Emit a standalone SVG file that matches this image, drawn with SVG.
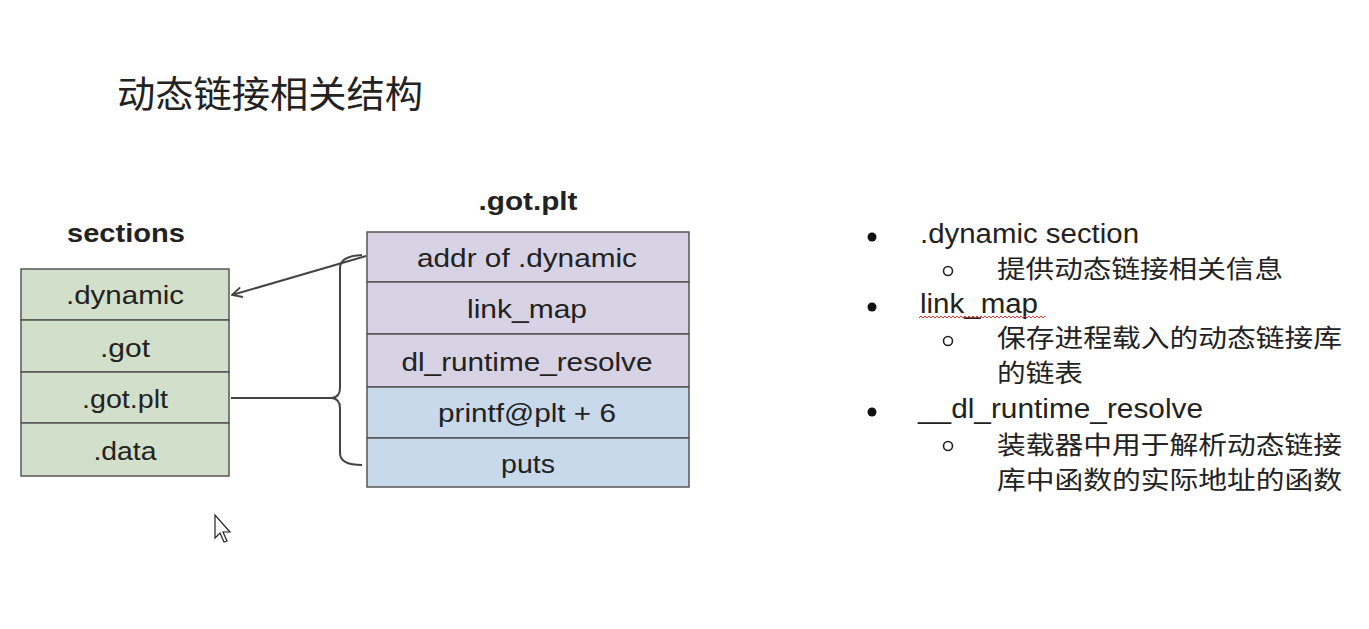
<svg xmlns="http://www.w3.org/2000/svg" width="1369" height="629" viewBox="0 0 1369 629">
<style>
.lat{font-family:"Liberation Sans",Arial,sans-serif;fill:#222;}
.cjk{font-family:"Noto Sans CJK SC","Noto Sans",sans-serif;fill:#222;}
.box{font-size:25px;text-anchor:middle;}
.g{fill:#d2dfca;stroke:#555;stroke-width:1.5;}
.p{fill:#d8d3e4;stroke:#555;stroke-width:1.5;}
.b{fill:#c9d9ec;stroke:#555;stroke-width:1.5;}
.hd{font-size:26px;font-weight:bold;text-anchor:middle;}
.li{font-size:27px;}
.sub{font-size:25px;}
.conn{fill:none;stroke:#444;stroke-width:2;}
</style>
<defs>
<marker id="arr" viewBox="0 0 12 12" refX="11" refY="6" markerWidth="12" markerHeight="12" markerUnits="userSpaceOnUse" orient="auto">
<path d="M1,1 L11,6 L1,11" fill="none" stroke="#444" stroke-width="1.8"/>
</marker>
</defs>
<rect width="1369" height="629" fill="#ffffff"/>
<text class="cjk" x="117" y="108" font-size="37" textLength="306" lengthAdjust="spacingAndGlyphs">动态链接相关结构</text>

<g id="sections">
<text class="lat hd" x="126" y="242" textLength="118" lengthAdjust="spacingAndGlyphs">sections</text>
<g id="sec-dynamic"><rect class="g" x="21" y="269" width="208" height="51"/><text class="lat box" x="125" y="304" textLength="118" lengthAdjust="spacingAndGlyphs">.dynamic</text></g>
<g id="sec-got"><rect class="g" x="21" y="320" width="208" height="52"/><text class="lat box" x="125" y="357" textLength="50" lengthAdjust="spacingAndGlyphs">.got</text></g>
<g id="sec-gotplt"><rect class="g" x="21" y="372" width="208" height="51"/><text class="lat box" x="125" y="408" textLength="86" lengthAdjust="spacingAndGlyphs">.got.plt</text></g>
<g id="sec-data"><rect class="g" x="21" y="423" width="208" height="53"/><text class="lat box" x="125" y="460" textLength="63" lengthAdjust="spacingAndGlyphs">.data</text></g>
</g>

<g id="gotplt">
<text class="lat hd" x="528" y="210" textLength="99" lengthAdjust="spacingAndGlyphs">.got.plt</text>
<g id="g-addr"><rect class="p" x="367" y="232" width="322" height="50"/><text class="lat box" x="527" y="267" textLength="220" lengthAdjust="spacingAndGlyphs">addr of .dynamic</text></g>
<g id="g-linkmap"><rect class="p" x="367" y="282" width="322" height="52"/><text class="lat box" x="527" y="318" textLength="120" lengthAdjust="spacingAndGlyphs">link_map</text></g>
<g id="g-dl"><rect class="p" x="367" y="334" width="322" height="53"/><text class="lat box" x="527" y="371" textLength="251" lengthAdjust="spacingAndGlyphs">dl_runtime_resolve</text></g>
<g id="g-printf"><rect class="b" x="367" y="387" width="322" height="51"/><text class="lat box" x="527" y="422" textLength="178" lengthAdjust="spacingAndGlyphs">printf@plt + 6</text></g>
<g id="g-puts"><rect class="b" x="367" y="438" width="322" height="49"/><text class="lat box" x="528" y="473" textLength="54" lengthAdjust="spacingAndGlyphs">puts</text></g>
</g>

<g id="connectors">
<line class="conn" x1="366" y1="256" x2="232" y2="295" marker-end="url(#arr)"/>
<path class="conn" d="M362,255 Q340,256 340,268 L340,388 Q340,397 332,398 Q340,399 340,408 L340,453 Q340,465 362,465"/>
<line class="conn" x1="231" y1="398" x2="333" y2="398"/>
</g>

<g id="notes">
<circle cx="872" cy="237" r="4.5" fill="#111"/>
<text class="lat li" x="920" y="243" textLength="219" lengthAdjust="spacingAndGlyphs">.dynamic section</text>
<circle cx="948" cy="271" r="4.5" fill="none" stroke="#222" stroke-width="1.6"/>
<text class="cjk sub" x="997" y="278" textLength="286" lengthAdjust="spacingAndGlyphs">提供动态链接相关信息</text>

<circle cx="872" cy="307" r="4.5" fill="#111"/>
<text class="lat li" x="920" y="313" textLength="118" lengthAdjust="spacingAndGlyphs">link_map</text>
<path d="M919,318 l2,-2 l2,2 l2,-2 l2,2 l2,-2 l2,2 l2,-2 l2,2 l2,-2 l2,2 l2,-2 l2,2 l2,-2 l2,2 l2,-2 l2,2 l2,-2 l2,2 l2,-2 l2,2 l2,-2 l2,2 l2,-2 l2,2 l2,-2 l2,2 l2,-2 l2,2 l2,-2 l2,2 l2,-2 l2,2 l2,-2 l2,2 l2,-2 l2,2 l2,-2 l2,2 l2,-2 l2,2 l2,-2 l2,2 l2,-2 l2,2 l2,-2 l2,2 l2,-2 l2,2 l2,-2 l2,2 l2,-2 l2,2 l2,-2 l2,2 l2,-2 l2,2 l2,-2 l2,2 l2,-2 l2,2 l2,-2 l2,2 l2,-2" fill="none" stroke="#e03030" stroke-width="1"/>
<circle cx="948" cy="341" r="4.5" fill="none" stroke="#222" stroke-width="1.6"/>
<text class="cjk sub" x="997" y="347" textLength="345" lengthAdjust="spacingAndGlyphs">保存进程载入的动态链接库</text>
<text class="cjk sub" x="997" y="382" textLength="86" lengthAdjust="spacingAndGlyphs">的链表</text>

<circle cx="872" cy="412" r="4.5" fill="#111"/>
<text class="lat li" x="918" y="418" textLength="285" lengthAdjust="spacingAndGlyphs">__dl_runtime_resolve</text>
<circle cx="948" cy="446" r="4.5" fill="none" stroke="#222" stroke-width="1.6"/>
<text class="cjk sub" x="997" y="454" textLength="345" lengthAdjust="spacingAndGlyphs">装载器中用于解析动态链接</text>
<text class="cjk sub" x="997" y="489" textLength="345" lengthAdjust="spacingAndGlyphs">库中函数的实际地址的函数</text>
</g>

<path d="M215,515 L215,538 L220,533 L224,542 L227,541 L223,532 L230,532 Z" fill="#fff" stroke="#222" stroke-width="1.2"/>
</svg>
